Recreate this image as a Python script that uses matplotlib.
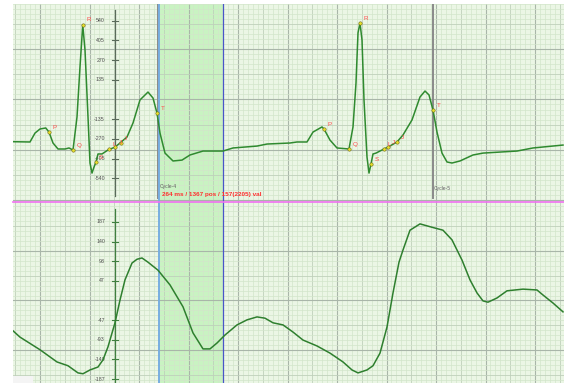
import matplotlib
matplotlib.use("Agg")
import matplotlib.pyplot as plt

plt.rcParams['font.family'] = ['Liberation Sans', 'DejaVu Sans']

# upper lead: time (ms) / amplitude
ecg_t = [0, 68, 88, 108, 131, 144, 160, 180, 208, 224, 240, 256, 268, 279, 288, 300,
         308, 316, 324, 332, 340, 356, 380, 408, 428, 456, 480, 508, 540, 560, 576, 588,
         608, 640, 676, 708, 760, 840, 880, 976, 1016, 1108, 1136, 1176, 1200, 1236, 1244,
         1268, 1296, 1344, 1360, 1372, 1380, 1388, 1396, 1404, 1416, 1424, 1432, 1440, 1452,
         1484, 1500, 1536, 1560, 1596, 1628, 1648, 1664, 1680, 1696, 1716, 1736, 1756, 1788,
         1840, 1880, 2016, 2080, 2200]
ecg_v = [-289, -291, -230, -202, -195, -223, -298, -339, -339, -332, -346, -120, 223, 511, 339, -120,
         -435, -504, -463, -428, -373, -373, -346, -326, -298, -257, -161, -3, 51, 10, -93, -230,
         -367, -421, -415, -380, -353, -353, -332, -319, -305, -298, -291, -291, -223, -188, -202,
         -278, -332, -339, -188, 113, 456, 524, 408, -3, -394, -504, -442, -373, -367,
         -339, -326, -291, -243, -140, 17, 58, 31, -72, -223, -367, -428, -435, -421,
         -380, -367, -353, -332, -312]

# lower trace
low_t = [0, 28, 108, 176, 220, 260, 280, 308, 340, 360, 380, 408, 428, 448, 476, 496, 516,
         540, 580, 628, 680, 720, 760, 788, 816, 848, 896, 936, 976, 1008, 1040, 1080, 1120,
         1160, 1216, 1268, 1320, 1356, 1380, 1416, 1440, 1468, 1496, 1520, 1544, 1560, 1588,
         1628, 1676, 1720, 1756, 1796, 1828, 1856, 1880, 1900, 1936, 1976, 2040, 2096, 2120,
         2160, 2200]
low_v = [-72, -87, -117, -146, -155, -172, -174, -165, -158, -141, -110, -53, 1, 49, 89, 98, 101,
         91, 72, 37, -15, -77, -115, -115, -101, -82, -58, -46, -39, -42, -53, -58, -75,
         -94, -108, -125, -146, -165, -172, -165, -155, -125, -63, 18, 91, 120, 167,
         182, 174, 167, 144, 96, 49, 18, -1, -4, 6, 23, 27, 25, 13,
         -6, -27]

# delineation points
pts_t = [144, 240, 279, 330, 384, 408, 431, 576, 1244, 1344, 1388, 1432, 1484, 1500, 1536, 1680]
pts_v = [-223, -346, 511, -428, -339, -326, -298, -93, -202, -339, 524, -442, -339, -326, -291, -72]
pts_lbl = ['P', 'Q', 'R', 'S', 'L', 'J', 'J', 'T', 'P', 'Q', 'R', 'S', 'L', 'J', 'J', 'T']

up_ticks = [540, 405, 270, 135, -135, -270, -405, -540]
lo_ticks = [187, 140, 93, 47, -47, -93, -140, -187]

T_MAX = 2204
AXIS_T = 408
SEL_A, SEL_B = 584, 840
CYCLES = [578, 1680]

fig = plt.figure(figsize=(5.64, 3.83), dpi=100)
ax1 = fig.add_axes([13/564, 181/383, 551/564, 198/383])
ax2 = fig.add_axes([13/564, 0, 551/564, 181/383])


def paper(ax, ylo, yhi, ystep):
    ax.set_facecolor('#ebf6e5')
    ax.set_xlim(0, T_MAX)
    ax.set_ylim(ylo, yhi)
    for s in ax.spines.values():
        s.set_visible(False)
    ax.set_xticks([])
    ax.set_yticks([])
    xstep = 198.0
    for k in range(-10, 120):
        x = 108 + k * xstep / 10
        if x < 0 or x > T_MAX:
            continue
        if k % 10 == 0:
            c, lw = '#a9b6a9', 0.8
        elif k % 5 == 0:
            c, lw = '#bfd0bb', 0.6
        else:
            c, lw = '#d2e5ca', 0.5
        ax.axvline(x, color=c, lw=lw, zorder=1)
    for k in range(-60, 60):
        y = k * ystep / 10
        if y < ylo or y > yhi:
            continue
        if k % 10 == 0:
            c, lw = '#a9b6a9', 0.8
        elif k % 5 == 0:
            c, lw = '#bfd0bb', 0.6
        else:
            c, lw = '#d2e5ca', 0.5
        ax.axhline(y, color=c, lw=lw, zorder=1)
    ax.axvspan(SEL_A, SEL_B, color='#b8f2b0', alpha=0.65, zorder=0.5, lw=0)
    ax.axvline(SEL_A, color='#78aee0', lw=1.4, zorder=4)
    ax.axvline(SEL_B, color='#4a55c8', lw=0.9, zorder=4)


paper(ax1, -702, 654, 342.6)
paper(ax2, -196, 234, 118.6)

# value axes
ax1.axvline(AXIS_T, ymin=0.03, ymax=0.97, color='#5a6a5a', lw=0.9, zorder=2)
ax2.axvline(AXIS_T, ymin=0.0, ymax=0.96, color='#3f7f3f', lw=0.9, zorder=2)
for ax, ticks, col in [(ax1, up_ticks, '#5a6a5a'), (ax2, lo_ticks, '#3f7f3f')]:
    for v in ticks:
        ax.plot([394, 420], [v, v], color=col, lw=0.8, zorder=2)
        ax.text(368, v, str(v), fontsize=3.8, color='#505050', ha='right', va='center', zorder=3)

# cycle markers
for c in CYCLES:
    ax1.axvline(c, ymin=0.02, color='#8a8a8a', lw=1.4, zorder=3)
ax1.text(CYCLES[0] + 8, -606, 'Cycle-4', fontsize=3.6, color='#606060', zorder=3)
ax1.text(CYCLES[1] + 4, -620, 'Cycle-5', fontsize=3.6, color='#606060', zorder=3)
ax1.text(594, -650, '264 ms / 1367 pos / 157(2205) val', fontsize=4.6, color='#ff3030',
         fontweight='bold', va='center', zorder=6)

# traces
ax1.plot(ecg_t, ecg_v, color='#2f8a2f', lw=1.1, zorder=5)
ax2.plot(low_t, low_v, color='#2e7f2e', lw=1.1, zorder=5)

ax1.scatter(pts_t, pts_v, s=6, color='#e8e02a', edgecolor='#6e6a20', linewidths=0.4, zorder=6)
for t, v, lbl in zip(pts_t, pts_v, pts_lbl):
    ax1.annotate(lbl, (t, v), xytext=(2.5, 2.5), textcoords='offset points',
                 fontsize=4.5, color='#ff4a4a', zorder=7)

# separator line between panels
fig.add_artist(plt.Line2D([13/564, 1], [181/383, 181/383], color='#f070f0', lw=1.2))
# small box lower-left
ax2.axvspan(0, 80, ymin=0, ymax=0.04, color='#f4f4f4', zorder=8, lw=0)

fig.savefig('out.png', dpi=100, facecolor='white')
